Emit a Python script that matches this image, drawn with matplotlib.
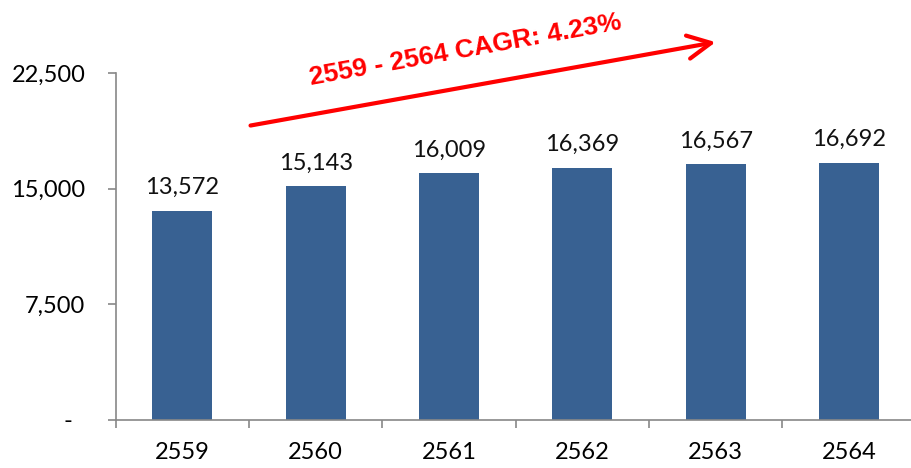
import matplotlib.pyplot as plt
import numpy as np

years = ["2559", "2560", "2561", "2562", "2563", "2564"]
values = [13572, 15143, 16009, 16369, 16567, 16692]
y_ticks = [0, 7500, 15000, 22500]
y_labels = ["-  ", "7,500", "15,000", "22,500"]
cagr_text = "2559 - 2564 CAGR: 4.23%"

plt.rcParams['font.family'] = ['Lato', 'DejaVu Sans']
fig = plt.figure(figsize=(9.12, 4.68), dpi=100)
ax = fig.add_axes([0.127, 0.1026, 0.877, 0.7415])

x = np.arange(len(years))
bars = ax.bar(x, values, width=0.45, color="#386192")

for xi, v in zip(x, values):
    ax.annotate(f"{v:,}", (xi, v), xytext=(0, 9), textcoords="offset points",
                ha="center", va="bottom", fontsize=17, color="#111111")

ax.set_xlim(-0.5, len(years) - 0.5)
ax.set_ylim(0, 22500)
ax.set_yticks(y_ticks)
ax.set_yticklabels(y_labels, fontsize=17)
ax.set_xticks(x)
ax.set_xticklabels(years, fontsize=17)
ax.set_xticks(np.arange(len(years) + 1) - 0.5, minor=True)

ax.tick_params(axis="x", which="major", length=0, pad=16)
ax.tick_params(axis="x", which="minor", length=6, width=1.2, color="#888888", direction="out")
ax.tick_params(axis="y", length=6, width=1.2, color="#888888", pad=16)

for s in ["top", "right"]:
    ax.spines[s].set_visible(False)
for s in ["left", "bottom"]:
    ax.spines[s].set_color("#888888")
    ax.spines[s].set_linewidth(1.2)

# CAGR arrow
ax.annotate("", xy=(4.02, 24530), xytext=(0.49, 19060), xycoords="data",
            arrowprops=dict(arrowstyle="->", color="red", lw=3, mutation_scale=42),
            annotation_clip=False)
ax.text(2.12, 24000, cagr_text, color="red", fontsize=19, fontweight="bold",
        family="Liberation Sans", rotation=10.2, ha="center", va="center",
        rotation_mode="anchor", clip_on=False)

fig.savefig("out.png", dpi=100)
